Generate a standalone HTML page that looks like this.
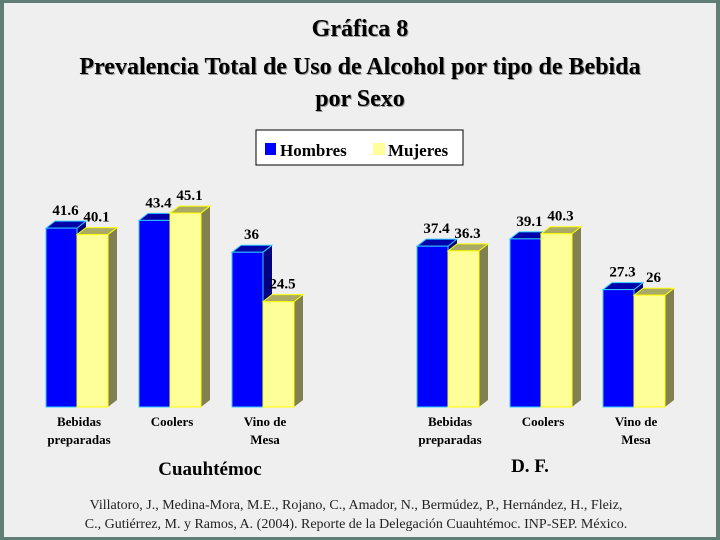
<!DOCTYPE html>
<html><head><meta charset="utf-8"><style>
body{margin:0;width:720px;height:540px;overflow:hidden;background:#5f7f76;}
#wrap{position:absolute;left:4px;top:3px;width:712px;height:534px;background:#efefef;}
text{font-family:"Liberation Serif",serif;font-weight:bold;}
</style></head><body>
<div id="wrap"></div>
<svg id="c" width="720" height="540" style="position:absolute;left:0;top:0">
<text x="360" y="36" font-size="24" text-anchor="middle" fill="#fff"></text>
<g>
<text x="361" y="37" font-size="24" text-anchor="middle" fill="#999">Gráfica 8</text>
<text x="360" y="36" font-size="24" text-anchor="middle" fill="#000">Gráfica 8</text>
<text x="361" y="75" font-size="24" text-anchor="middle" fill="#999">Prevalencia Total de Uso de Alcohol por tipo de Bebida</text>
<text x="360" y="74" font-size="24" text-anchor="middle" fill="#000">Prevalencia Total de Uso de Alcohol por tipo de Bebida</text>
<text x="361" y="107" font-size="24" text-anchor="middle" fill="#999">por Sexo</text>
<text x="360" y="106" font-size="24" text-anchor="middle" fill="#000">por Sexo</text>
</g>
<g>
<rect x="256" y="130" width="207" height="35" fill="#fff" stroke="#000"/>
<rect x="265" y="143" width="11" height="12" fill="#0000ff"/>
<text x="280" y="156" font-size="17">Hombres</text>
<rect x="373" y="143" width="12" height="12" fill="#ffff99"/>
<text x="388" y="156" font-size="17">Mujeres</text>
</g>
<g id="bars"></g>
<text x="210" y="475" font-size="19" text-anchor="middle">Cuauhtémoc</text>
<text x="530" y="472" font-size="19" text-anchor="middle">D. F.</text>
<g style="font-weight:normal">
<text x="356" y="509" font-size="14" text-anchor="middle" style="font-weight:normal" fill="#222">Villatoro, J., Medina-Mora, M.E., Rojano, C., Amador, N., Bermúdez, P., Hernández, H., Fleiz,</text>
<text x="356" y="528" font-size="14" text-anchor="middle" style="font-weight:normal" fill="#222">C., Gutiérrez, M. y Ramos, A. (2004). Reporte de la Delegación Cuauhtémoc. INP-SEP. México.</text>
</g>
</svg>
<script>
const categories=["Bebidas|preparadas","Coolers","Vino de|Mesa"];
const cuauhHombres=[41.6,43.4,36];
const cuauhMujeres=[40.1,45.1,24.5];
const dfHombres=[37.4,39.1,27.3];
const dfMujeres=[36.3,40.3,26];
const hombresLabels=["41.6","43.4","36"];
const mujeresLabels=["40.1","45.1","24.5"];
const dfHLabels=["37.4","39.1","27.3"];
const dfMLabels=["36.3","40.3","26"];
const NS="http://www.w3.org/2000/svg";
const g=document.getElementById('bars');
const base=407, scale=4.3, bw=31, dx=9, dy=7;
function y(v){return base-v*scale;}
function el(t,a){const e=document.createElementNS(NS,t);for(const k in a)e.setAttribute(k,a[k]);g.appendChild(e);return e;}
function bar(x,v,front,top,side,stroke,name,label){
  const yt=y(v);
  const s=el('polygon',{points:`${x+bw},${yt} ${x+bw+dx},${yt-dy} ${x+bw+dx},${base-dy} ${x+bw},${base}`,fill:side});
  
  
  const t=el('polygon',{points:`${x},${yt} ${x+dx},${yt-dy} ${x+bw+dx},${yt-dy} ${x+bw},${yt}`,fill:top,stroke:stroke,'stroke-width':1});
  
  
  const r=el('rect',{x:x,y:yt,width:bw,height:base-yt,fill:front,stroke:stroke,'stroke-width':1});
  
  
  const l=el('text',{x:x+bw/2+4,y:yt-dy-6,'font-size':15,'text-anchor':'middle'});
  l.textContent=label;
  
  
}
function group(x0,H,M,HL,ML,tag){
  categories.forEach((c,i)=>{
    const x=x0+i*93;
    bar(x,H[i],'#0000ff','#0000aa','#000080','#33ccff',tag+'-hombres-bar-'+i,HL[i]);
    bar(x+bw,M[i],'#ffff99','#aaaa66','#808050','#ffff00',tag+'-mujeres-bar-'+i,ML[i]);
    c.split('|').forEach((ln,j)=>{
      const t=el('text',{x:x+bw+2,y:426+j*18,'font-size':13,'text-anchor':'middle'});
      t.textContent=ln;
      
      
    });
  });
}
group(46,cuauhHombres,cuauhMujeres,hombresLabels,mujeresLabels,'cuauhtemoc');
group(417,dfHombres,dfMujeres,dfHLabels,dfMLabels,'df');
</script>
</body></html>
